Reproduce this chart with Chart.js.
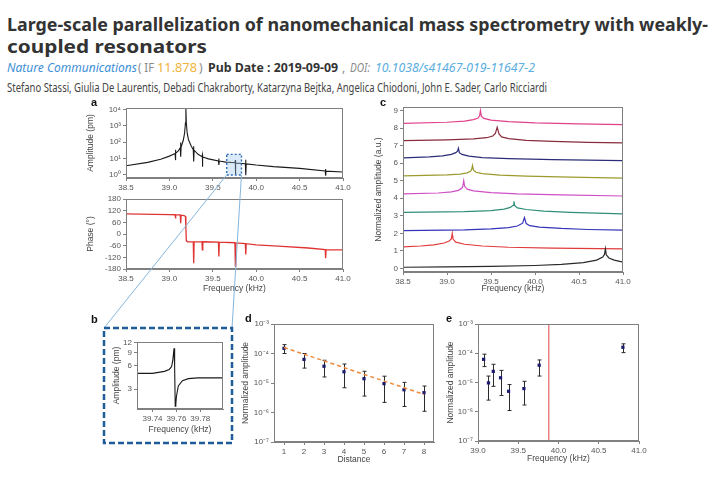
<!DOCTYPE html>
<html>
<head>
<meta charset="utf-8">
<script src="https://cdn.jsdelivr.net/npm/chart.js@4.4.1/dist/chart.umd.min.js"></script>
<style>
  html, body { margin: 0; padding: 0; background: #fff; }
  #page { position: relative; width: 720px; height: 481px; overflow: hidden; background: #fff; }
  canvas { position: absolute; }
  .tag { position: absolute; font: bold 11px "Liberation Sans", Arial, sans-serif; color: #111; }
  svg { position: absolute; left: 0; top: 0; }
</style>
</head>
<body>
<div id="page">
  <svg id="head" width="720" height="100" style="font-family:'Noto Sans','Open Sans',sans-serif">
    <text x="7" y="31" font-size="18.6" font-weight="bold" fill="#333" textLength="701" lengthAdjust="spacingAndGlyphs">Large-scale parallelization of nanomechanical mass spectrometry with weakly-</text>
    <text x="7" y="53" font-size="18.6" font-weight="bold" fill="#333" textLength="200" lengthAdjust="spacingAndGlyphs">coupled resonators</text>
    <text x="7" y="72" font-size="12" font-style="italic" fill="#3d8fd6" textLength="130" lengthAdjust="spacingAndGlyphs">Nature Communications</text>
    <text x="138" y="72" font-size="12" fill="#8a8a8a" textLength="16" lengthAdjust="spacingAndGlyphs">( IF</text>
    <text x="157" y="72" font-size="12" fill="#f0b43c" textLength="40" lengthAdjust="spacingAndGlyphs">11.878</text>
    <text x="199" y="72" font-size="12" fill="#8a8a8a">)</text>
    <text x="208" y="72" font-size="12" font-weight="bold" fill="#333" textLength="130" lengthAdjust="spacingAndGlyphs">Pub Date : 2019-09-09</text>
    <text x="342" y="72" font-size="12" fill="#8a8a8a">,</text>
    <text x="350" y="72" font-size="12" font-style="italic" fill="#8a8a8a" textLength="20" lengthAdjust="spacingAndGlyphs">DOI:</text>
    <text x="375" y="72" font-size="12" font-style="italic" fill="#5aaee0" textLength="160" lengthAdjust="spacingAndGlyphs">10.1038/s41467-019-11647-2</text>
    <text x="7" y="92" font-size="12" fill="#444" textLength="540" lengthAdjust="spacingAndGlyphs">Stefano Stassi, Giulia De Laurentis, Debadi Chakraborty, Katarzyna Bejtka, Angelica Chiodoni, John E. Sader, Carlo Ricciardi</text>
  </svg>

  <canvas id="ampChart"></canvas>
  <canvas id="phaseChart"></canvas>
  <canvas id="cChart"></canvas>
  <canvas id="bChart"></canvas>
  <canvas id="dChart"></canvas>
  <canvas id="eChart"></canvas>

  <div class="tag" style="left:91px;top:96px">a</div>
  <div class="tag" style="left:380px;top:96px">c</div>
  <div class="tag" style="left:91px;top:313px">b</div>
  <div class="tag" style="left:245px;top:312px">d</div>
  <div class="tag" style="left:446px;top:312px">e</div>

  <svg id="overlay" width="720" height="481"></svg>
</div>

<script>
// ---- panel a: amplitude and phase vs frequency (kHz)
const ampFreq = [38.5, 38.75, 38.9, 39.0, 39.065, 39.07, 39.07, 39.075, 39.1, 39.125, 39.13, 39.13, 39.135, 39.16, 39.175,
  39.185, 39.19, 39.195, 39.205, 39.22, 39.25, 39.275, 39.28, 39.28, 39.285, 39.33, 39.375, 39.38, 39.38, 39.385, 39.45,
  39.565, 39.57, 39.57, 39.575, 39.65, 39.755, 39.76, 39.76, 39.765, 39.875, 39.88, 39.88, 39.885, 40.0, 40.2, 40.5,
  40.795, 40.8, 40.8, 40.805, 41.0];
const ampPm = [3.6, 5.8, 9, 14, 20, 34, 8, 21, 28, 45, 95, 13, 50, 130, 350,
  1500, 11000, 1500, 350, 140, 60, 34, 55, 6.5, 32, 18, 13, 17, 3.2, 12.5, 9.5,
  7, 10, 4, 7, 6, 5.5, 8, 1.1, 5.3, 4.8, 8.5, 0.95, 4.7, 4.0, 3.2, 2.5,
  1.75, 2.3, 0.9, 1.7, 1.5];

const phaseFreq = [38.5, 39.0, 39.065, 39.07, 39.075, 39.125, 39.13, 39.135, 39.17, 39.185, 39.19, 39.195, 39.21,
  39.275, 39.28, 39.285, 39.375, 39.38, 39.385, 39.565, 39.57, 39.575, 39.755, 39.76, 39.765, 39.875, 39.88, 39.885,
  40.0, 40.3, 40.6, 40.795, 40.8, 40.805, 41.0];
const phaseDeg = [104, 100, 99, 80, 99, 98, 56, 97, 95, 90, 30, -35, -40,
  -40, -150, -40, -40, -82, -40, -42, -115, -42, -45, -165, -46, -50, -105, -50,
  -56, -64, -72, -80, -125, -80, -82];

const freqTicks = [38.5, 39.0, 39.5, 40.0, 40.5, 41.0];
const ampTicks = [1, 10, 100, 1000, 10000];
const phaseTicks = [-180, -120, -60, 0, 60, 120, 180];
const zoomBox = { f0: 39.66, f1: 39.83, a0: 1, a1: 18 };

// ---- panel c: normalized amplitude of the nine resonators (offset traces)
const cFreq8 = [38.5, 39.0, 39.2, 39.3, 39.35, 39.37, 39.38, 39.39, 39.42, 39.5, 39.7, 40.0, 40.5, 41.0];
const cAmp8 = [8.27, 8.33, 8.4, 8.48, 8.56, 8.7, 9.0, 8.68, 8.55, 8.45, 8.37, 8.3, 8.24, 8.2];
const cFreq7 = [38.5, 39.0, 39.3, 39.45, 39.52, 39.55, 39.57, 39.59, 39.62, 39.7, 39.9, 40.2, 40.6, 41.0];
const cAmp7 = [7.29, 7.33, 7.38, 7.45, 7.55, 7.7, 8.05, 7.68, 7.5, 7.4, 7.3, 7.24, 7.19, 7.16];
const cFreq6 = [38.5, 38.8, 38.95, 39.05, 39.1, 39.12, 39.13, 39.14, 39.17, 39.25, 39.4, 39.7, 40.2, 41.0];
const cAmp6 = [6.3, 6.36, 6.42, 6.5, 6.6, 6.68, 6.85, 6.6, 6.5, 6.4, 6.32, 6.26, 6.2, 6.15];
const cFreq5 = [38.5, 39.0, 39.15, 39.23, 39.27, 39.28, 39.29, 39.3, 39.33, 39.4, 39.6, 39.9, 40.4, 41.0];
const cAmp5 = [5.28, 5.33, 5.38, 5.45, 5.55, 5.65, 5.87, 5.62, 5.48, 5.4, 5.32, 5.26, 5.2, 5.15];
const cFreq4 = [38.5, 38.9, 39.05, 39.13, 39.17, 39.18, 39.19, 39.2, 39.23, 39.3, 39.5, 39.8, 40.3, 41.0];
const cAmp4 = [4.25, 4.3, 4.36, 4.45, 4.58, 4.7, 5.0, 4.68, 4.52, 4.42, 4.32, 4.25, 4.19, 4.13];
const cFreq3 = [38.5, 39.2, 39.5, 39.65, 39.72, 39.75, 39.76, 39.77, 39.8, 39.9, 40.1, 40.4, 40.7, 41.0];
const cAmp3 = [3.2, 3.24, 3.3, 3.38, 3.48, 3.6, 3.83, 3.58, 3.45, 3.36, 3.27, 3.2, 3.15, 3.11];
const cFreq2 = [38.5, 39.2, 39.5, 39.7, 39.8, 39.86, 39.88, 39.9, 39.94, 40.05, 40.3, 40.6, 41.0];
const cAmp2 = [2.16, 2.2, 2.26, 2.33, 2.42, 2.58, 2.9, 2.56, 2.44, 2.36, 2.28, 2.22, 2.18];
const cFreq1 = [38.5, 38.7, 38.85, 38.97, 39.03, 39.05, 39.06, 39.07, 39.1, 39.2, 39.4, 39.7, 40.2, 41.0];
const cAmp1 = [1.23, 1.28, 1.35, 1.45, 1.58, 1.7, 2.0, 1.66, 1.5, 1.38, 1.28, 1.21, 1.16, 1.12];
const cFreq0 = [38.5, 39.0, 39.5, 40.0, 40.3, 40.55, 40.7, 40.77, 40.79, 40.8, 40.81, 40.84, 40.9, 41.0];
const cAmp0 = [0.07, 0.09, 0.12, 0.17, 0.23, 0.33, 0.48, 0.65, 0.8, 1.12, 0.78, 0.6, 0.48, 0.36];
const cColors = ["#2a2a2a", "#e03a3a", "#3434b8", "#2f8f78", "#cf4fc6", "#9c9a2c", "#2b2d78", "#8a2c3c", "#e0428a"];
const cTicks = [0, 1, 2, 3, 4, 5, 6, 7, 8, 9];

// ---- panel b: zoom on one weak resonance
const bFreq = [39.727, 39.74, 39.75, 39.754, 39.756, 39.757, 39.758, 39.7585, 39.759, 39.7595, 39.760, 39.7616, 39.765,
  39.770, 39.778, 39.799];
const bAmp = [4.8, 4.8, 5.1, 5.4, 5.9, 7.2, 10.2, 6, 1.8, 1.9, 2.4, 3.3, 3.85, 4.1, 4.2, 4.2];
const bFreqTicks = [39.74, 39.76, 39.78];
const bAmpTicks = [3, 6, 9, 12];

// ---- panel d: amplitude vs distance
const distance = [1, 2, 3, 4, 5, 6, 7, 8];
const dAmp = [1.5e-4, 6.3e-5, 3.7e-5, 2.4e-5, 1.4e-5, 9.5e-6, 5.9e-6, 4.7e-6];
const dErrHi = [2.0e-4, 1.0e-4, 5.9e-5, 4.4e-5, 2.5e-5, 1.7e-5, 1.05e-5, 7.9e-6];
const dErrLo = [1.0e-4, 3.2e-5, 1.6e-5, 6.9e-6, 3.6e-6, 2.2e-6, 1.6e-6, 1.1e-6];
const dFitX = [1, 8];
const dFitY = [1.6e-4, 4.1e-6];

// ---- panel e: amplitude vs resonator frequency
const eFreq = [39.07, 39.13, 39.19, 39.28, 39.38, 39.57, 39.76, 40.8];
const eAmp = [6.2e-5, 9.7e-6, 2.4e-5, 1.45e-5, 5.0e-6, 6.2e-6, 3.9e-5, 1.6e-4];
const eErrHi = [9.3e-5, 1.66e-5, 4.2e-5, 2.6e-5, 8.5e-6, 1.1e-5, 5.9e-5, 2.1e-4];
const eErrLo = [3.5e-5, 2.5e-6, 7.4e-6, 3.6e-6, 1.1e-6, 1.7e-6, 1.66e-5, 1.05e-4];
const eLineX = [39.88, 39.88];
const eLineY = [1e-7, 1e-3];
const eFreqTicks = [39.0, 39.5, 40.0, 40.5, 41.0];
const logTicks = [1e-7, 1e-6, 1e-5, 1e-4, 1e-3];
const distTicks = [1, 2, 3, 4, 5, 6, 7, 8];

Chart.defaults.font.family = '"Liberation Sans", Arial, sans-serif';
Chart.defaults.font.size = 8;
Chart.defaults.color = "#555";
Chart.defaults.animation = false;
Chart.defaults.events = [];
Chart.defaults.plugins.legend.display = false;
Chart.defaults.plugins.tooltip.enabled = false;

const geo = {
  amp: { left: 86, top: 100, w: 270, h: 95, l: 126, r: 343, t: 108, b: 178 },
  phase: { left: 86, top: 191, w: 270, h: 103, l: 126, r: 343, t: 199, b: 269 },
  c: { left: 374, top: 98, w: 262, h: 196, l: 403, r: 623, t: 107, b: 272 },
  b: { left: 112, top: 334, w: 117, h: 101, l: 137, r: 223, t: 342, b: 409 },
  d: { left: 241, top: 316, w: 203, h: 149, l: 274, r: 434, t: 324, b: 442 },
  e: { left: 446, top: 316, w: 209, h: 148, l: 478, r: 639, t: 324, b: 441 },
};

const SUP = { "-": "\u207B", 0: "\u2070", 1: "\u00B9", 2: "\u00B2", 3: "\u00B3", 4: "\u2074", 5: "\u2075", 6: "\u2076", 7: "\u2077", 8: "\u2078", 9: "\u2079" };
function pow10(v) {
  const e = String(Math.round(Math.log10(v)));
  return "10" + [...e].map((c) => SUP[c]).join("");
}

const pts = (xs, ys) => xs.map((x, i) => ({ x, y: ys[i] }));

const frame = {
  id: "frame",
  afterDraw(chart) {
    const { ctx, chartArea: a } = chart;
    ctx.save();
    ctx.strokeStyle = "#808080";
    ctx.lineWidth = 1;
    ctx.strokeRect(Math.round(a.left) + 0.5, Math.round(a.top) + 0.5, Math.round(a.width) - 1, Math.round(a.height) - 1);
    ctx.restore();
  },
};

const errorBars = {
  id: "errorBars",
  beforeDatasetsDraw(chart, args, opts) {
    if (!opts.xs) return;
    const { ctx, scales: { x, y } } = chart;
    ctx.save();
    ctx.strokeStyle = "#2a2a2a";
    ctx.lineWidth = 1;
    opts.xs.forEach((xv, i) => {
      const px = Math.round(x.getPixelForValue(xv)) + 0.5;
      const top = y.getPixelForValue(opts.hi[i]);
      const bot = y.getPixelForValue(opts.lo[i]);
      ctx.beginPath();
      ctx.moveTo(px, top); ctx.lineTo(px, bot);
      ctx.moveTo(px - 2, top); ctx.lineTo(px + 2, top);
      ctx.moveTo(px - 2, bot); ctx.lineTo(px + 2, bot);
      ctx.stroke();
    });
    ctx.restore();
  },
};

function axis(o) {
  return {
    type: o.type || "linear",
    min: o.min,
    max: o.max,
    afterBuildTicks: (s) => { s.ticks = o.ticks.map((value) => ({ value })); },
    afterFit: (s) => { if (s.isHorizontal()) s.height = o.size; else s.width = o.size; },
    ticks: { callback: o.fmt, autoSkip: false, maxRotation: 0, padding: 2, color: "#555", font: { size: 8 } },
    grid: { drawOnChartArea: false, tickLength: 3, color: "#808080" },
    border: { color: "#808080" },
    title: o.title
      ? { display: true, text: o.title, color: "#444", font: { size: 8.5 }, padding: { top: 0, bottom: 0 } }
      : { display: false },
  };
}

function makeChart(id, g, xOpt, yOpt, datasets, pluginOpts) {
  const cv = document.getElementById(id);
  cv.width = g.w; cv.height = g.h;
  cv.style.left = g.left + "px"; cv.style.top = g.top + "px";
  cv.style.width = g.w + "px"; cv.style.height = g.h + "px";
  xOpt.size = g.top + g.h - g.b;
  yOpt.size = g.l - g.left;
  return new Chart(cv, {
    type: "scatter",
    data: { datasets },
    options: {
      responsive: false,
      layout: { padding: { top: g.t - g.top, right: g.left + g.w - g.r, left: 0, bottom: 0 } },
      scales: { x: axis(xOpt), y: axis(yOpt) },
      plugins: { errorBars: pluginOpts || {} },
    },
    plugins: [frame, errorBars],
  });
}

const lineSet = (xs, ys, color, width) => ({
  data: pts(xs, ys), showLine: true, borderColor: color, borderWidth: width || 1.1, pointRadius: 0, fill: false,
});

const one = (v) => Number(v).toFixed(1);

const ampChart = makeChart("ampChart", geo.amp,
  { min: 38.5, max: 41.0, ticks: freqTicks, fmt: one },
  { type: "logarithmic", min: 0.65, max: 12000, ticks: ampTicks, fmt: pow10, title: "Amplitude (pm)" },
  [lineSet(ampFreq, ampPm, "#1a1a1a")]);

makeChart("phaseChart", geo.phase,
  { min: 38.5, max: 41.0, ticks: freqTicks, fmt: one, title: "Frequency (kHz)" },
  { min: -180, max: 180, ticks: phaseTicks, fmt: (v) => String(v), title: "Phase (\u00B0)" },
  [lineSet(phaseFreq, phaseDeg, "#e03434", 1.3)]);

const cSets = [
  [cFreq0, cAmp0], [cFreq1, cAmp1], [cFreq2, cAmp2], [cFreq3, cAmp3], [cFreq4, cAmp4],
  [cFreq5, cAmp5], [cFreq6, cAmp6], [cFreq7, cAmp7], [cFreq8, cAmp8],
].map(([xs, ys], i) => lineSet(xs, ys, cColors[i], 1.2));

makeChart("cChart", geo.c,
  { min: 38.5, max: 41.0, ticks: freqTicks, fmt: one, title: "Frequency (kHz)" },
  { min: -0.2, max: 9.2, ticks: cTicks, fmt: (v) => String(v), title: "Normalized amplitude (a.u.)" },
  cSets);

makeChart("bChart", geo.b,
  { min: 39.727, max: 39.799, ticks: bFreqTicks, fmt: (v) => Number(v).toFixed(2), title: "Frequency (kHz)" },
  { type: "logarithmic", min: 1.65, max: 12.3, ticks: bAmpTicks, fmt: (v) => String(v), title: "Amplitude (pm)" },
  [lineSet(bFreq, bAmp, "#1a1a1a", 1.1)]);

const markers = (xs, ys) => ({
  data: pts(xs, ys), pointStyle: "rect", pointRadius: 2.3, backgroundColor: "#1c1c6e", borderColor: "#1c1c6e", borderWidth: 0,
});

makeChart("dChart", geo.d,
  { min: 0.5, max: 8.5, ticks: distTicks, fmt: (v) => String(v), title: "Distance" },
  { type: "logarithmic", min: 1e-7, max: 1e-3, ticks: logTicks, fmt: pow10, title: "Normalized amplitude" },
  [
    { ...lineSet(dFitX, dFitY, "#f08a3c", 1.5), borderDash: [4, 3] },
    markers(distance, dAmp),
  ],
  { xs: distance, hi: dErrHi, lo: dErrLo });

makeChart("eChart", geo.e,
  { min: 39.0, max: 41.0, ticks: eFreqTicks, fmt: one, title: "Frequency (kHz)" },
  { type: "logarithmic", min: 1e-7, max: 1e-3, ticks: logTicks, fmt: pow10, title: "Normalized amplitude" },
  [lineSet(eLineX, eLineY, "#e04848", 1), markers(eFreq, eAmp)],
  { xs: eFreq, hi: eErrHi, lo: eErrLo });

// zoom box on panel a and its connectors to panel b
(function drawOverlay() {
  const sx = ampChart.scales.x, sy = ampChart.scales.y;
  const x0 = geo.amp.left + sx.getPixelForValue(zoomBox.f0);
  const x1 = geo.amp.left + sx.getPixelForValue(zoomBox.f1);
  const y0 = geo.amp.top + sy.getPixelForValue(zoomBox.a1);
  const y1 = geo.amp.top + sy.getPixelForValue(zoomBox.a0);
  const bx0 = 104, bx1 = 232, by0 = 328, by1 = 443;
  const svg = document.getElementById("overlay");
  svg.innerHTML = `
    <line x1="${x0}" y1="${y1}" x2="${bx0}" y2="${by0}" stroke="#86b6dc" stroke-width="1"/>
    <line x1="${x1}" y1="${y1}" x2="${bx1}" y2="${by0}" stroke="#86b6dc" stroke-width="1"/>
    <rect x="${x0}" y="${y0}" width="${x1 - x0}" height="${y1 - y0}" fill="rgba(150,195,235,0.35)"
      stroke="#2f6fb5" stroke-width="1.4" stroke-dasharray="2 2"/>
    <rect x="${bx0}" y="${by0}" width="${bx1 - bx0}" height="${by1 - by0}" fill="none"
      stroke="#1f5b98" stroke-width="2.5" stroke-dasharray="6 3"/>`;
})();
</script>
</body>
</html>
